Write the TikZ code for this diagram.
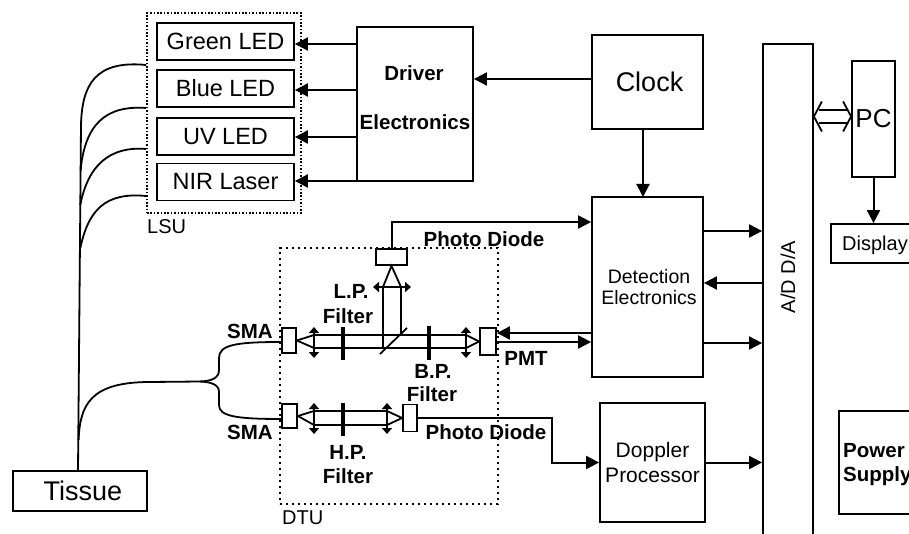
\documentclass[tikz,border=0pt]{standalone}
\usepackage{fontspec}
\setmainfont{Liberation Sans}
\usetikzlibrary{arrows.meta}

\tikzset{
    blockbox/.style={draw, line width=1.8pt, inner sep=0pt, align=center},
    ledbox/.style={blockbox, minimum width=137pt, minimum height=37pt, font=\fontsize{23.5}{23.5}\selectfont},
    lsubox/.style={draw, line width=1.6pt, dash pattern=on 1.6pt off 1.8pt, inner sep=0pt},
    dtubox/.style={draw, line width=2.4pt, dash pattern=on 2.4pt off 3.6pt, inner sep=0pt},
    optbox/.style={draw, line width=1.8pt, fill=white, inner sep=0pt},
    conn/.style={line width=2pt, -{Triangle[length=13pt,width=13pt]}},
    wire/.style={line width=1.8pt},
    fibre/.style={line width=1.8pt},
    lens/.style={line width=1.8pt, {Triangle[length=6pt,width=10pt]}-{Triangle[length=6pt,width=10pt]}},
    filt/.style={line width=3.6pt},
    tag/.style={font=\bfseries\fontsize{20.5}{20.5}\selectfont, inner sep=0pt},
    plain/.style={font=\fontsize{20}{20}\selectfont, inner sep=0pt}
}

\begin{document}
\begin{tikzpicture}[x=1pt, y=-1pt]
    \useasboundingbox (0,0) rectangle (909,534);
    \clip (0,0) rectangle (909,534);

    % dotted units
    \node[lsubox, minimum width=154pt, minimum height=200pt] (lsu) at (224,113) {};
    \node[dtubox, minimum width=218pt, minimum height=256pt] (dtu) at (389,376) {};
    \node[plain, anchor=west] (lsulabel) at (147,227) {LSU};
    \node[plain, anchor=west] (dtulabel) at (282,518) {DTU};

    % sources
    \node[ledbox] (green) at (225.5,41.5) {Green LED};
    \node[ledbox] (blue) at (225.5,88.5) {Blue LED};
    \node[ledbox] (uv) at (225.5,136.5) {UV LED};
    \node[ledbox] (nir) at (225.5,182) {NIR Laser};

    % main blocks
    \node[blockbox, minimum width=116pt, minimum height=154pt] (driver) at (415,104) {};
    \node[tag] (drivertext) at (414,73) {Driver};
    \node[tag] (electext) at (415,122) {Electronics};
    \node[blockbox, minimum width=111pt, minimum height=94pt, font=\fontsize{27}{27}\selectfont] (clock) at (647.5,82) {\hspace*{4pt}Clock};
    \node[blockbox, minimum width=111pt, minimum height=180pt, font=\fontsize{19.5}{21.5}\selectfont] (detect) at (647.5,287) {\hspace*{3pt}Detection\\\hspace*{3pt}Electronics};
    \node[blockbox, minimum width=105pt, minimum height=119pt, font=\fontsize{21}{25}\selectfont] (doppler) at (652.5,462.5) {Doppler\\Processor};
    \node[blockbox, minimum width=50pt, minimum height=520pt] (adda) at (788,304) {};
    \node[plain, rotate=90] (addatext) at (788,277) {A/D D/A};
    \node[blockbox, minimum width=43pt, minimum height=116pt, font=\fontsize{26}{26}\selectfont] (pc) at (873.5,119) {PC};
    \node[blockbox, minimum width=100pt, minimum height=39pt] (display) at (881,243.5) {};
    \node[plain, anchor=west] (displaytext) at (842,245) {Display};
    \node[blockbox, minimum width=100pt, minimum height=103pt] (power) at (889,462.5) {};
    \node[tag, anchor=west] (powertext) at (843,451) {Power};
    \node[tag, anchor=west] (supplytext) at (843,476) {Supply};
    \node[blockbox, minimum width=134pt, minimum height=40pt, font=\fontsize{27}{27}\selectfont] (tissue) at (80,491) {\hspace*{6pt}Tissue};

    % optics boxes
    \node[optbox, minimum width=14pt, minimum height=25pt] (smaup) at (289,340.5) {};
    \node[optbox, minimum width=16pt, minimum height=27pt] (pmt) at (488,341.5) {};
    \node[optbox, minimum width=31pt, minimum height=16pt] (pd) at (391.5,257) {};
    \node[optbox, minimum width=15pt, minimum height=24pt] (smalow) at (289.5,416) {};
    \node[optbox, minimum width=14pt, minimum height=27pt] (pdlow) at (410,418) {};

    % labels
    \node[tag] (pdlabel) at (484,239) {Photo Diode};
    \node[tag] (lplabel) at (351,291) {L.P.};
    \node[tag] (lpfilter) at (348,316) {Filter};
    \node[tag] (smalabel) at (250,331) {SMA};
    \node[tag] (smalabelb) at (250,432) {SMA};
    \node[tag] (pmtlabel) at (526,358) {PMT};
    \node[tag] (bplabel) at (433,371) {B.P.};
    \node[tag] (bpfilter) at (432,394) {Filter};
    \node[tag] (pdlabelb) at (486,432) {Photo Diode};
    \node[tag] (hplabel) at (348,452) {H.P.};
    \node[tag] (hpfilter) at (348,476) {Filter};

    % driver and clock
    \draw[conn] (driver.west |- 0,44) -- (green.east |- 0,44);
    \draw[conn] (driver.west |- 0,90) -- (blue.east |- 0,90);
    \draw[conn] (driver.west |- 0,137) -- (uv.east |- 0,137);
    \draw[conn] (driver.west |- 0,181) -- (nir.east |- 0,181);
    \draw[conn] (clock.west |- 0,79) -- (driver.east |- 0,79);
    \draw[conn] (643,129) -- (643,197);

    % detection, doppler, pc
    \draw[conn] (detect.east |- 0,231) -- (adda.west |- 0,231);
    \draw[conn] (adda.west |- 0,283) -- (detect.east |- 0,283);
    \draw[conn] (detect.east |- 0,343) -- (adda.west |- 0,343);
    \draw[conn] (doppler.east) -- (adda.west |- doppler.east);
    \draw[conn] (pc.south) -- (pc.south |- display.north);

    % link to the pc
    \coordinate (linka) at (adda.east |- 0,116.5);
    \coordinate (linkb) at (pc.west |- 0,116.5);
    \draw[wire] (linka) ++(8,-15) -- (linka) -- ++(8,15);
    \draw[wire] (linkb) ++(-8,-15) -- (linkb) -- ++(-8,15);
    \draw[wire] (linka) ++(5,-6.5) -- ++(28,0);
    \draw[wire] (linka) ++(5,6.5) -- ++(28,0);

    % photo diode and pmt wires
    \draw[conn] (pd.north) |- (detect.west |- 0,222);
    \draw[conn] (detect.west |- 0,333) -- (pmt.east |- 0,333);
    \draw[conn] (pmt.east |- 0,342) -- (detect.west |- 0,342);
    \draw[conn] (pdlow.east) -- (552,418) -- (552,462.5) -- (doppler.west);

    % fibres
    \draw[fibre] (lsu.west |- 0,65) .. controls (95,60) and (82,85) .. (81,125) -- (78,471);
    \draw[fibre] (lsu.west |- 0,108) .. controls (105,105) and (85,125) .. (80.6,170);
    \draw[fibre] (lsu.west |- 0,149) .. controls (110,146) and (88,165) .. (80.3,205);
    \draw[fibre] (lsu.west |- 0,196) .. controls (105,192) and (88,210) .. (79.9,250);
    \draw[fibre] (78.6,440) .. controls (80,405) and (90,382) .. (150,382) -- (200,381.5) .. controls (212,381) and (219,378) .. (219,370) -- (219,358) .. controls (219,345) and (235,342) .. (smaup.west |- 0,342);
    \draw[fibre] (200,381.5) .. controls (212,382) and (219,385) .. (219,392) -- (219,405) .. controls (219,416) and (235,419) .. (smalow.west |- 0,419);

    % upper beam
    \draw[wire] (smaup.east) -- (314,335) -- (466,335) -- (pmt.west);
    \draw[wire] (smaup.east) -- (314,348) -- (466,348) -- (pmt.west);
    \draw[lens] (314,327) -- (314,358);
    \draw[lens] (466,327) -- (466,358);
    \draw[filt] (343,327) -- (343,360);
    \draw[filt] (429,326) -- (429,360);
    \draw[wire] (380,354) -- (407,328);
    \draw[wire] (383,348) -- (383,287) -- (pd.south) -- (401,287) -- (401,335);
    \draw[lens] (373,287) -- (411,287);

    % lower beam
    \draw[wire] (smalow.east) -- (314,411) -- (387,411) -- (pdlow.west);
    \draw[wire] (smalow.east) -- (314,425) -- (387,425) -- (pdlow.west);
    \draw[lens] (314,403) -- (314,434);
    \draw[lens] (387,403) -- (387,434);
    \draw[filt] (343,403) -- (343,436);
\end{tikzpicture}
\end{document}
